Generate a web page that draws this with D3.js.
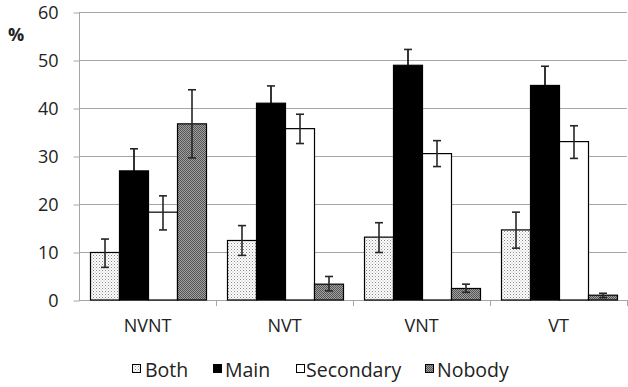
<!DOCTYPE html>
<html><head><meta charset="utf-8">
<script src="https://cdn.jsdelivr.net/npm/d3@7"></script>
<style>body{margin:0;background:#fff}svg{display:block}text{font-family:"Open Sans",Lato,sans-serif;fill:#222}</style>
</head><body><svg id="c" width="628" height="387"></svg>
<script>
const categories = ["NVNT","NVT","VNT","VT"];
const seriesNames = ["Both","Main","Secondary","Nobody"];
const both      = [9.9, 12.4, 13.1, 14.6];
const main      = [26.9, 41.0, 48.9, 44.7];
const secondary = [18.3, 35.7, 30.5, 33.0];
const nobody    = [36.7, 3.3, 2.4, 1.0];
const bothErrLo = [6.8, 9.3, 9.9, 10.8];
const bothErrHi = [12.7, 15.5, 16.1, 18.3];
const mainErrLo = [22.3, 37.4, 45.6, 40.6];
const mainErrHi = [31.5, 44.6, 52.2, 48.7];
const secErrLo  = [14.6, 32.6, 27.8, 29.5];
const secErrHi  = [21.7, 38.7, 33.2, 36.3];
const nobErrLo  = [29.6, 1.9, 1.6, 0.5];
const nobErrHi  = [43.8, 4.9, 3.3, 1.4];
const yTicks = [0,10,20,30,40,50,60];

const values = [both, main, secondary, nobody];
const errLo = [bothErrLo, mainErrLo, secErrLo, nobErrLo];
const errHi = [bothErrHi, mainErrHi, secErrHi, nobErrHi];

const svg = d3.select("#c");
const defs = svg.append("defs");
const p1 = defs.append("pattern").attr("id","pBoth").attr("patternUnits","userSpaceOnUse").attr("width",3).attr("height",3);
p1.append("rect").attr("width",3).attr("height",3).attr("fill","#fff");
p1.append("rect").attr("x",0).attr("y",0).attr("width",1).attr("height",1).attr("fill","#888");
p1.append("rect").attr("x",1.5).attr("y",1.5).attr("width",1).attr("height",1).attr("fill","#aaa");
const p2 = defs.append("pattern").attr("id","pNob").attr("patternUnits","userSpaceOnUse").attr("width",2).attr("height",2);
p2.append("rect").attr("width",2).attr("height",2).attr("fill","#a0a0a0");
p2.append("rect").attr("x",0).attr("y",0).attr("width",1).attr("height",1).attr("fill","#555");
p2.append("rect").attr("x",1).attr("y",1).attr("width",1).attr("height",1).attr("fill","#555");

const fills = ["url(#pBoth)","#000","#fff","url(#pNob)"];
const errColors = ["#262626","#000","#262626","#262626"];

const x0 = d3.scaleBand().domain(categories).range([79,627]);
const x1 = d3.scaleBand().domain(seriesNames).range([11,127]);
const y = d3.scaleLinear().domain([0,60]).range([300,12]);

svg.append("g").selectAll("line").data(yTicks.filter(t=>t>0)).join("line")
  .attr("x1",79).attr("x2",627).attr("y1",d=>y(d)+0.5).attr("y2",d=>y(d)+0.5)
  .attr("stroke","#a6a6a6").attr("stroke-width",1);

const yAxis = svg.append("g").attr("transform","translate(79.5,0)")
  .call(d3.axisLeft(y).tickValues(yTicks).tickSize(6).tickPadding(15).tickFormat(d3.format("d")));
yAxis.select(".domain").attr("stroke","#a6a6a6").attr("d","M0,"+(y(60)+0.5)+"V"+(y(0)+0.5));
yAxis.selectAll(".tick line").attr("stroke","#a6a6a6").attr("transform","translate(0,0.5)");
yAxis.selectAll(".tick text").attr("font-size",18).attr("font-family","'Open Sans',sans-serif").attr("fill","#222").attr("dy","0.35em");

const xAxis = svg.append("g").attr("transform","translate(0,300.5)")
  .call(d3.axisBottom(x0).tickSize(0).tickPadding(19));
xAxis.select(".domain").attr("stroke","#a6a6a6").attr("d","M79,0H627");
xAxis.selectAll(".tick text").attr("font-size",18).attr("font-family","'Open Sans',sans-serif").attr("fill","#222");
svg.append("g").selectAll("line").data(categories).join("line")
  .attr("x1",d=>Math.round(x0(d)+x0.bandwidth())+0.5).attr("x2",d=>Math.round(x0(d)+x0.bandwidth())+0.5)
  .attr("y1",300).attr("y2",306).attr("stroke","#a6a6a6");

const rows = [];
categories.forEach((c,i)=>seriesNames.forEach((s,j)=>rows.push({c,s,j,v:values[j][i],lo:errLo[j][i],hi:errHi[j][i]})));
svg.append("g").selectAll("rect").data(rows).join("rect")
  .attr("x",d=>x0(d.c)+x1(d.s)+0.5).attr("width",x1.bandwidth())
  .attr("y",d=>y(d.v)).attr("height",d=>y(0)-y(d.v))
  .attr("fill",d=>fills[d.j]).attr("stroke","#000").attr("stroke-width",1.2);

const eg = svg.append("g").attr("stroke-width",1.6);
rows.forEach(d=>{
  const cx = x0(d.c)+x1(d.s)+x1.bandwidth()/2+0.5;
  const col = errColors[d.j];
  eg.append("line").attr("stroke",col).attr("x1",cx).attr("x2",cx).attr("y1",y(d.lo)).attr("y2",y(d.hi));
  eg.append("line").attr("stroke",col).attr("x1",cx-4).attr("x2",cx+4).attr("y1",y(d.lo)).attr("y2",y(d.lo));
  eg.append("line").attr("stroke","#262626").attr("x1",cx-4).attr("x2",cx+4).attr("y1",y(d.hi)).attr("y2",y(d.hi));
});

svg.append("text").attr("x",8).attr("y",41).attr("font-size",18).attr("font-weight","bold").text("%");

const legSwatchX = [132, 213, 296, 425];
const legTextX = [145, 225, 306, 437];
const lg = svg.append("g");
seriesNames.forEach((s,j)=>{
  lg.append("rect").attr("x",legSwatchX[j]+0.5).attr("y",364.5).attr("width",8).attr("height",8)
    .attr("fill",fills[j]).attr("stroke","#000").attr("stroke-width",1);
  lg.append("text").attr("x",legTextX[j]).attr("y",377).attr("font-size",19.5).text(s);
});
</script></body></html>
